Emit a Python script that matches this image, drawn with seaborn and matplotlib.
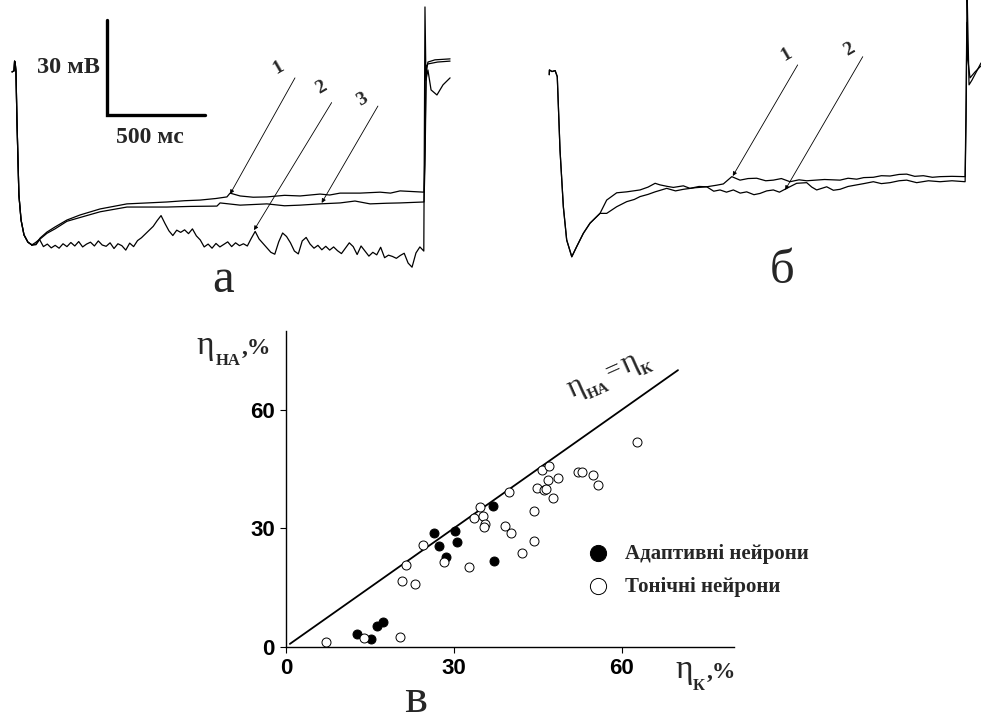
import numpy as np
import pandas as pd
import seaborn as sns
import matplotlib.pyplot as plt

sns.set_theme(style='white')
plt.rcParams['font.family'] = ['Liberation Serif', 'DejaVu Serif']

# ---- panel а: membrane potential traces (time in ms, voltage in mV) ----
a_start_t = [-10, 0, 3, 6, 10, 15, 25, 36, 51, 71, 92]
a_start_v = [-0.6, -0.3, 2.8, 2.2, -0.4, -15.8, -39.5, -47.4, -52.1, -54.4, -55.3]

a1_t = [112, 133, 168, 209, 270, 337, 439, 576, 680, 780, 870, 949, 1030, 1086, 1102, 1153,
        1220, 1290, 1380, 1459, 1561, 1610, 1663, 1765, 1867, 1920, 1969, 2091,
        2096, 2101, 2111, 2147, 2224]
a1_v = [-55.0, -53.1, -51.2, -49.6, -47.4, -45.8, -43.9, -42.3, -42.0, -41.7, -41.3, -41.1, -40.6, -40.1, -38.9, -39.8,
        -40.2, -40.1, -39.6, -39.8, -39.2, -39.5, -38.9, -38.9, -38.6, -38.9, -38.2, -38.6,
        -25.3, -1.6, 2.5, 3.2, 3.5]

a3_t = [112, 133, 168, 209, 270, 337, 439, 576, 780, 900, 1035, 1051, 1153, 1290, 1380, 1459,
        1561, 1663, 1739, 1816, 1900, 1969, 2091, 2096, 2103, 2111, 2160, 2224]
a3_v = [-55.2, -53.4, -51.6, -50.2, -47.8, -46.6, -44.8, -43.3, -43.3, -43.1, -43.0, -42.0, -42.7, -42.3, -42.9, -42.7,
        -42.3, -42.0, -41.4, -42.3, -42.1, -42.0, -41.7, -30.0, 1.3, 1.9, 2.5, 2.8]

a2_step_t0 = 90
a2_noisy_v = [-55.3, -54.5, -53.5, -55.8, -55.0, -56.2, -55.4, -56.3, -54.9, -55.8,
              -54.5, -55.6, -54.2, -55.9, -55.0, -54.4, -55.6, -54.0, -55.3, -55.7,
              -54.6, -56.4, -54.9, -55.5, -56.9, -54.7, -55.8, -53.9, -53.0, -51.8,
              -50.6, -49.4, -47.6, -46.0, -48.5, -50.8, -52.3, -50.6, -51.3, -50.5,
              -51.7, -50.2, -52.4, -53.7, -55.9, -55.0, -56.3, -54.8, -55.9, -55.1,
              -54.3, -55.8, -54.6, -55.5, -54.9, -55.6, -53.2, -51.0, -53.4, -54.8,
              -56.2, -57.6, -58.2, -54.3, -51.5, -52.6, -54.6, -57.2, -58.1, -54.0,
              -52.9, -55.0, -56.3, -55.4, -56.8, -55.7, -56.9, -55.9, -57.1, -58.0,
              -56.3, -54.6, -55.8, -58.3, -55.6, -57.2, -58.8, -57.6, -58.4, -56.0,
              -59.3, -58.5, -58.9, -59.5, -58.6, -57.9, -61.0, -62.3, -57.8, -55.9,
              -57.2]
a2_end_t = [2096, 2101, 2111, 2127, 2157, 2188, 2224]
a2_end_v = [19.9, -3.2, 0.0, -6.3, -7.9, -4.7, -2.5]

# arrows: label, label position, line start, arrow tip
a_labels = ['1', '2', '3']
a_label_pos = [(1350, 0.8), (1565, -5.5), (1775, -9.3)]
a_line_start = [(1433, -2.5), (1620, -10.3), (1856, -11.4)]
a_line_tip = [(1102, -39.2), (1224, -50.6), (1569, -42.0)]

# ---- panel б ----
b_start_t = [-4, -3, 10, 26, 37, 51, 68, 85, 111, 136, 170, 204, 255]
b_start_v = [-1.5, 0.0, -0.5, -0.2, -2.1, -25.3, -43.2, -53.7, -59.0, -55.8, -51.6, -48.4, -45.3]

b1_t = [289, 340, 391, 459, 500, 536, 561, 600, 629, 680, 714, 760, 799, 850, 884, 927, 969, 1010,
        1054, 1100, 1139, 1180, 1224, 1270, 1309, 1400, 1479, 1520, 1564, 1600, 1649, 1690, 1734,
        1780, 1819, 1860, 1904, 1950, 1989, 2050, 2117, 2122, 2127, 2137, 2152, 2198]
b1_v = [-41.1, -38.8, -38.5, -37.9, -37.0, -35.8, -36.3, -36.8, -37.1, -36.6, -37.4, -36.8, -36.9,
        -36.4, -36.0, -33.7, -34.8, -34.3, -34.2, -35.0, -34.8, -34.3, -35.3, -34.7, -35.0, -34.6,
        -34.8, -34.2, -34.5, -34.0, -33.9, -33.4, -33.5, -33.0, -32.9, -33.6, -33.4, -33.9, -33.7,
        -33.6, -33.7, -9.5, 25.0, -4.7, -3.2, 2.2]

b2_t = [289, 340, 391, 430, 459, 500, 536, 595, 640, 680, 740, 799, 835, 867, 900, 935, 970, 1003,
        1040, 1071, 1105, 1139, 1170, 1207, 1258, 1309, 1335, 1360, 1411, 1445, 1479, 1520, 1564,
        1600, 1649, 1690, 1734, 1780, 1819, 1870, 1930, 1989, 2050, 2117, 2122, 2126, 2131, 2142,
        2168, 2198]
b2_v = [-45.3, -43.2, -41.6, -40.9, -40.0, -39.3, -38.5, -37.4, -38.2, -37.7, -37.2, -36.9, -38.3,
        -37.9, -38.6, -37.9, -38.9, -38.5, -39.4, -39.0, -38.2, -37.9, -38.6, -37.4, -35.8, -35.6,
        -37.0, -37.9, -36.9, -38.0, -37.7, -36.8, -36.3, -35.9, -35.3, -35.9, -35.6, -35.0, -34.8,
        -35.6, -35.0, -35.3, -35.0, -35.3, -15.8, 15.0, 3.2, -2.5, -0.6, 1.3]

b_labels = ['1', '2']
b_label_pos = [(1205, 4.9), (1525, 6.5)]
b_line_start = [(1263, 1.6), (1595, 4.2)]
b_line_tip = [(932, -33.5), (1199, -37.9)]

# scale bar
bar_t0, bar_v0 = 474, -14.2
bar_ms, bar_mv = 500, 30

# ---- panel в: scatter ----
adapt_k = [12.7, 15.2, 16.3, 17.3, 26.5, 27.4, 28.6, 30.2, 30.5, 36.9, 37.1]
adapt_na = [3.2, 1.9, 5.3, 6.3, 28.7, 25.6, 22.6, 29.2, 26.5, 35.7, 21.7]
tonic_k = [7.2, 13.9, 20.3, 20.8, 21.5, 23.0, 24.5, 28.2, 32.7, 33.6, 34.6, 35.2, 35.5, 35.4,
           39.2, 39.9, 40.2, 42.1, 44.3, 44.3, 44.9, 45.8, 46.9, 46.0, 46.5, 46.8, 47.7, 48.6,
           52.2, 52.9, 54.9, 55.8, 62.6]
tonic_na = [1.3, 2.3, 2.5, 16.7, 20.6, 15.8, 25.8, 21.5, 20.2, 32.5, 35.3, 33.2, 31.1, 30.4,
            30.5, 39.2, 28.9, 23.7, 34.4, 26.8, 40.1, 44.8, 45.8, 39.7, 39.9, 42.1, 37.6, 42.7,
            44.2, 44.1, 43.4, 41.0, 51.7]
identity = [0.7, 70]
groups = ['Адаптивні нейрони', 'Тонічні нейрони']

fig = plt.figure(figsize=(9.81, 7.21), dpi=100)
fig.patch.set_facecolor('white')

ax_a = fig.add_axes([0.0, 0.5978, 0.4791, 0.4022])
ax_b = fig.add_axes([0.5097, 0.5978, 0.4903, 0.4022])
ax_c = fig.add_axes([0.2915, 0.1031, 0.4567, 0.4383])


def trace(ax, t, v, lw=0.9):
    sns.lineplot(x=t, y=v, ax=ax, color='black', lw=lw, sort=False, estimator=None)


def arrows(ax, labels, pos, starts, tips):
    for lab, p, s, e in zip(labels, pos, starts, tips):
        ax.annotate('', xy=e, xytext=s,
                    arrowprops=dict(arrowstyle='-|>', lw=0.6, color='black',
                                    mutation_scale=6, shrinkA=0, shrinkB=0))
        ax.text(p[0], p[1], lab, fontsize=14, fontweight='bold', rotation=30,
                ha='center', va='center')


def pieces(ax, xy, parts, rot=0):
    # text with subscripts, parts laid out along a (possibly rotated) baseline
    c, s = np.cos(np.radians(rot)), np.sin(np.radians(rot))
    for txt, size, weight, dx, dy in parts:
        ax.annotate(txt, xy=xy, xytext=(dx * c - dy * s, dx * s + dy * c),
                    textcoords='offset points', fontsize=size, fontweight=weight,
                    rotation=rot, rotation_mode='anchor', ha='left', va='baseline',
                    annotation_clip=False)


a2_t = list(a_start_t) + list(range(a2_step_t0, a2_step_t0 + 20 * len(a2_noisy_v), 20)) + a2_end_t
a2_v = list(a_start_v) + a2_noisy_v + a2_end_v
trace(ax_a, a_start_t + a1_t, a_start_v + a1_v)
trace(ax_a, a_start_t + a3_t, a_start_v + a3_v)
trace(ax_a, a2_t, a2_v)
arrows(ax_a, a_labels, a_label_pos, a_line_start, a_line_tip)
ax_a.plot([bar_t0, bar_t0, bar_t0 + bar_ms], [bar_v0 + bar_mv, bar_v0, bar_v0],
          color='black', lw=2.4, solid_joinstyle='miter')
ax_a.text(bar_t0 - 35, bar_v0 + bar_mv / 2, '30 мВ', fontsize=17.5, fontweight='bold',
          ha='right', va='center')
ax_a.text(bar_t0 + bar_ms / 2 - 30, bar_v0 - 7.0, '500 мс', fontsize=17, fontweight='bold',
          ha='center', va='center')
ax_a.set_xlim(-71.4, 2325.6)
ax_a.set_ylim(-69.5, 22.1)
ax_a.axis('off')

trace(ax_b, b_start_t + b1_t, b_start_v + b1_v)
trace(ax_b, b_start_t + b2_t, b_start_v + b2_v)
arrows(ax_b, b_labels, b_label_pos, b_line_start, b_line_tip)
ax_b.set_xlim(-255, 2198)
ax_b.set_ylim(-69.5, 22.1)
ax_b.axis('off')

fig.text(223 / 981, 1 - 292 / 721, 'а', fontsize=35, ha='center', va='baseline')
fig.text(782 / 981, 1 - 283 / 721, 'б', fontsize=35, ha='center', va='baseline')
fig.text(416 / 981, 1 - 712 / 721, 'в', fontsize=35, ha='center', va='baseline')

# scatter
df = pd.DataFrame({
    'k': adapt_k + tonic_k,
    'na': adapt_na + tonic_na,
    'group': [groups[0]] * len(adapt_k) + [groups[1]] * len(tonic_k),
})
ax_c.plot(identity, identity, color='black', lw=1.3)
sns.scatterplot(data=df[df.group == groups[0]], x='k', y='na', ax=ax_c, color='black',
                edgecolor='black', linewidth=0.7, s=42, label=groups[0], zorder=3)
sns.scatterplot(data=df[df.group == groups[1]], x='k', y='na', ax=ax_c, color='white',
                edgecolor='black', linewidth=0.7, s=42, label=groups[1], zorder=3)
ax_c.set_xlim(0, 80)
ax_c.set_ylim(0, 80)
ax_c.set_xticks([0, 30, 60])
ax_c.set_yticks([0, 30, 60])
ax_c.set_xlabel('')
ax_c.set_ylabel('')
sns.despine(ax=ax_c)
for sp in ['left', 'bottom']:
    ax_c.spines[sp].set_linewidth(1.0)
    ax_c.spines[sp].set_color('black')
ax_c.tick_params(direction='out', length=4, width=0.8, color='black', pad=4,
                 left=True, bottom=True)
for lab in ax_c.get_xticklabels() + ax_c.get_yticklabels():
    lab.set_fontfamily('Liberation Sans')
    lab.set_fontweight('bold')
    lab.set_fontsize(16)
    lab.set_color('black')
ax_c.set_facecolor('white')

pieces(ax_c, (-15.9, 74.1), [('η', 24, 'normal', 0, 0), ('НА', 12, 'bold', 13.5, -8),
                            (',%', 17, 'bold', 32, 0)])
pieces(ax_c, (69.6, -7.9), [('η', 24, 'normal', 0, 0), ('К', 12, 'bold', 12.5, -9),
                           (',%', 17, 'bold', 22.5, 0)])
pieces(ax_c, (51.0, 63.0), [('η', 22, 'normal', 0, 0), ('НА', 11, 'bold', 11.5, -6),
                           ('=', 20, 'normal', 30, 0.5), ('η', 22, 'normal', 43, 0),
                           ('К', 11, 'bold', 54.5, -6)], rot=24)

leg = ax_c.legend(loc='upper left', bbox_to_anchor=(0.649, 0.359), frameon=False,
                  markerscale=1.8, handlelength=1.0, handletextpad=0.8, borderpad=0,
                  labelspacing=0.62, prop={'family': 'Liberation Serif', 'weight': 'bold', 'size': 15})

fig.savefig('out.png', dpi=100, facecolor='white')
